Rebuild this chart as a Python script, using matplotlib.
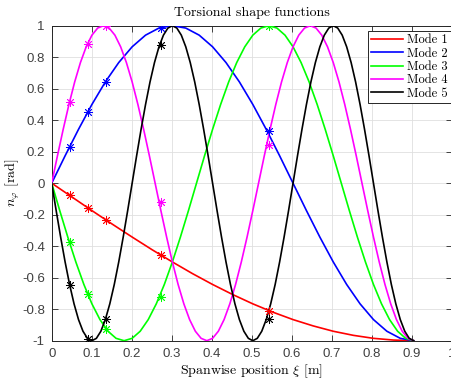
import numpy as np
import matplotlib
matplotlib.use("Agg")
import matplotlib.pyplot as plt

# ---------------- data ----------------
xi_end = 0.905  # span length [m]

mode1 = [0, -0.087, -0.174, -0.259, -0.342, -0.423, -0.5, -0.574, -0.643, -0.707,
         -0.766, -0.819, -0.866, -0.906, -0.94, -0.966, -0.985, -0.996, -1]

mode2 = [0, 0.174, 0.342, 0.5, 0.643, 0.766, 0.866, 0.94, 0.985, 1,
         0.985, 0.94, 0.866, 0.766, 0.643, 0.5, 0.342, 0.174, 0,
         -0.174, -0.342, -0.5, -0.643, -0.766, -0.866, -0.94, -0.985, -1]

mode3 = [0, -0.174, -0.342, -0.5, -0.643, -0.766, -0.866, -0.94, -0.985, -1,
         -0.985, -0.94, -0.866, -0.766, -0.643, -0.5, -0.342, -0.174, 0,
         0.174, 0.342, 0.5, 0.643, 0.766, 0.866, 0.94, 0.985, 1,
         0.985, 0.94, 0.866, 0.766, 0.643, 0.5, 0.342, 0.174, 0,
         -0.174, -0.342, -0.5, -0.643, -0.766, -0.866, -0.94, -0.985, -1]

mode4 = [0, 0.174, 0.342, 0.5, 0.643, 0.766, 0.866, 0.94, 0.985, 1,
         0.985, 0.94, 0.866, 0.766, 0.643, 0.5, 0.342, 0.174, 0,
         -0.174, -0.342, -0.5, -0.643, -0.766, -0.866, -0.94, -0.985, -1,
         -0.985, -0.94, -0.866, -0.766, -0.643, -0.5, -0.342, -0.174, 0,
         0.174, 0.342, 0.5, 0.643, 0.766, 0.866, 0.94, 0.985, 1,
         0.985, 0.94, 0.866, 0.766, 0.643, 0.5, 0.342, 0.174, 0,
         -0.174, -0.342, -0.5, -0.643, -0.766, -0.866, -0.94, -0.985, -1]

mode5 = [0, -0.174, -0.342, -0.5, -0.643, -0.766, -0.866, -0.94, -0.985, -1,
         -0.985, -0.94, -0.866, -0.766, -0.643, -0.5, -0.342, -0.174, 0,
         0.174, 0.342, 0.5, 0.643, 0.766, 0.866, 0.94, 0.985, 1,
         0.985, 0.94, 0.866, 0.766, 0.643, 0.5, 0.342, 0.174, 0,
         -0.174, -0.342, -0.5, -0.643, -0.766, -0.866, -0.94, -0.985, -1,
         -0.985, -0.94, -0.866, -0.766, -0.643, -0.5, -0.342, -0.174, 0,
         0.174, 0.342, 0.5, 0.643, 0.766, 0.866, 0.94, 0.985, 1,
         0.985, 0.94, 0.866, 0.766, 0.643, 0.5, 0.342, 0.174, 0,
         -0.174, -0.342, -0.5, -0.643, -0.766, -0.866, -0.94, -0.985, -1]

xi_markers = [0.045, 0.091, 0.136, 0.272, 0.543]
mark1 = [-0.078, -0.156, -0.233, -0.454, -0.809]
mark2 = [0.233, 0.454, 0.645, 0.988, 0.33]
mark3 = [-0.375, -0.705, -0.924, -0.72, 1.0]
mark4 = [0.515, 0.885, 0.997, -0.12, 0.24]
mark5 = [-0.645, -0.988, -0.86, 0.875, -0.86]

labels = ["Mode 1", "Mode 2", "Mode 3", "Mode 4", "Mode 5"]
colors = ["#ff0000", "#0000ff", "#00ff00", "#ff00ff", "#000000"]

xticks = [0, 0.1, 0.2, 0.3, 0.4, 0.5, 0.6, 0.7, 0.8, 0.9, 1]
xticklabels = ["0", "0.1", "0.2", "0.3", "0.4", "0.5", "0.6", "0.7", "0.8", "0.9", "1"]
yticks = [-1, -0.8, -0.6, -0.4, -0.2, 0, 0.2, 0.4, 0.6, 0.8, 1]
yticklabels = ["-1", "-0.8", "-0.6", "-0.4", "-0.2", "0", "0.2", "0.4", "0.6", "0.8", "1"]

# ---------------- plot ----------------
plt.rcParams["mathtext.fontset"] = "cm"
plt.rcParams["font.family"] = ["cmr10", "DejaVu Serif"]
plt.rcParams["axes.unicode_minus"] = False

fig = plt.figure(figsize=(4.52, 3.80), dpi=100)
ax = fig.add_axes([51.7 / 452, 39.3 / 380, 400 / 452, 315 / 380])

modes = [mode1, mode2, mode3, mode4, mode5]
marks = [mark1, mark2, mark3, mark4, mark5]
for vals, mk, lab, c in zip(modes, marks, labels, colors):
    xs = np.linspace(0, xi_end, len(vals))
    ax.plot(xs, vals, color=c, lw=1.2, label=lab, zorder=3)
    ax.plot(xi_markers, mk, linestyle="none", marker=(8, 2, 0), color=c,
            markersize=6.5, markeredgewidth=0.6, zorder=4)

ax.set_xlim(0, 1)
ax.set_ylim(-1, 1)
ax.set_xticks(xticks)
ax.set_xticklabels(xticklabels, family="Liberation Sans", fontsize=9.5, color="#404040")
ax.set_yticks(yticks)
ax.set_yticklabels(yticklabels, family="Liberation Sans", fontsize=9.5, color="#404040")
ax.tick_params(direction="in", length=4, width=0.6, color="#262626",
               top=True, right=True, pad=5)
ax.grid(True, color="#dfdfdf", lw=0.6, zorder=0)
ax.set_axisbelow(True)
for s in ax.spines.values():
    s.set_color("#262626")
    s.set_linewidth(0.7)

ax.set_title("Torsional shape functions", fontsize=10, pad=7)
ax.set_xlabel(r"Spanwise position $\xi$ [m]", fontsize=10, labelpad=2)
ax.set_ylabel(r"$n_\varphi$ [rad]", fontsize=10, labelpad=0)

leg = ax.legend(loc="upper right", bbox_to_anchor=(0.9975, 0.983),
                fontsize=9, frameon=True, fancybox=False,
                edgecolor="#262626", framealpha=1, handlelength=2.6,
                handletextpad=0.3, labelspacing=0.1, borderpad=0.25,
                borderaxespad=0.0)
leg.get_frame().set_linewidth(0.7)

fig.savefig("out.png", dpi=100)
